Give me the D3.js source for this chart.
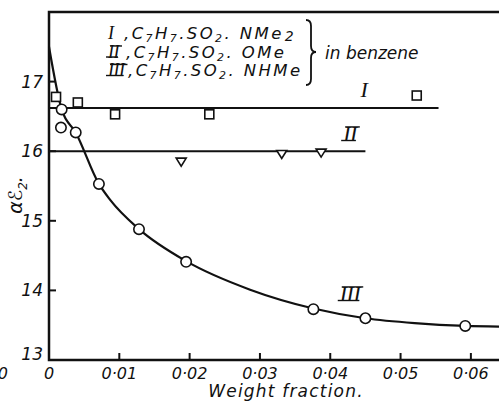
<!DOCTYPE html>
<html>
<head>
<meta charset="utf-8">
<title>weight fraction</title>
<script src="https://d3js.org/d3.v7.min.js"></script>
<style>
  body { margin: 0; background: #fff; }
  text { font-family: "DejaVu Sans", sans-serif; font-style: italic; fill: #111; }
  .roman { font-family: "Liberation Serif", serif; font-style: italic; }
</style>
</head>
<body>
<div id="chart"></div>
<script>
// data
var sqX = [0.0010, 0.0041, 0.0094, 0.0228, 0.0523];       // I
var sqY = [16.78, 16.70, 16.53, 16.53, 16.80];
var triX = [0.0188, 0.0331, 0.0387];                      // II
var triY = [15.85, 15.96, 15.98];
var circX = [0.0018, 0.0017, 0.0038, 0.0071, 0.0128, 0.0195, 0.0376, 0.0450, 0.0592]; // III
var circY = [16.60, 16.34, 16.27, 15.53, 14.88, 14.41, 13.73, 13.60, 13.49];
var curveX = [0, 0.0018, 0.0038, 0.0071, 0.0087, 0.0128, 0.0195, 0.0286, 0.0376, 0.0450, 0.0520, 0.0592, 0.064];
var curveY = [17.50, 16.60, 16.27, 15.53, 15.30, 14.88, 14.42, 14.01, 13.74, 13.60, 13.53, 13.49, 13.48];
var lineI = [0, 0.0554, 16.62];   // x start, x end, value
var lineII = [0, 0.0450, 16.0];
var xTicks = [0, 0.01, 0.02, 0.03, 0.04, 0.05, 0.06];
var xTickLabels = ["0", "0·01", "0·02", "0·03", "0·04", "0·05", "0·06"];
var yTicks = [13, 14, 15, 16, 17];
var numerals = ["I", "II", "III"];
var groups = ["NMe", "OMe", "NHMe"];

var width = 499, height = 402;

var svg = d3.select("#chart").append("svg")
  .attr("width", width)
  .attr("height", height);

var x = d3.scaleLinear().domain([0, 0.064]).range([49, 499]);
var y = d3.scaleLinear().domain([13, 18]).range([360, 12]);

// frame: left, top and bottom
svg.append("path")
  .attr("d", "M499," + y(18) + "H" + x(0) + "V" + y(13) + "H499")
  .attr("fill", "none").attr("stroke", "#111").attr("stroke-width", 2.5);

// ticks pointing inward
svg.selectAll(".yt").data(yTicks.slice(1)).enter().append("line")
  .attr("x1", x(0)).attr("x2", x(0) + 7)
  .attr("y1", function(d) { return y(d); }).attr("y2", function(d) { return y(d); })
  .attr("stroke", "#111").attr("stroke-width", 2);
svg.selectAll(".xt").data(xTicks.slice(1)).enter().append("line")
  .attr("x1", function(d) { return x(d); }).attr("x2", function(d) { return x(d); })
  .attr("y1", y(13)).attr("y2", y(13) - 7)
  .attr("stroke", "#111").attr("stroke-width", 2);

// tick labels
svg.selectAll(".yl").data(yTicks).enter().append("text")
  .attr("x", 43).attr("y", function(d) { return Math.min(y(d) + 6, 360); })
  .attr("text-anchor", "end").style("font-size", "17px")
  .text(function(d) { return d; });
svg.selectAll(".xl").data(xTicks).enter().append("text")
  .attr("x", function(d) { return x(d); }).attr("y", 379)
  .attr("text-anchor", "middle").style("font-size", "16px")
  .text(function(d, i) { return xTickLabels[i]; });
// stray zero at the left edge of the page
svg.append("text").attr("x", 8).attr("y", 379).attr("text-anchor", "end").style("font-size", "16px").text("0");

// axis titles
svg.append("text").attr("x", 286).attr("y", 397).attr("text-anchor", "middle")
  .style("font-size", "17px").style("letter-spacing", "1.2px").text("Weight fraction.");
var yt = svg.append("text").attr("transform", "translate(22,195) rotate(-90)")
  .attr("text-anchor", "middle").style("font-size", "19px");
yt.append("tspan").text("αℰ");
yt.append("tspan").attr("dy", 5).style("font-size", "12px").text("2");
yt.append("tspan").attr("dy", -5).text(".");

// horizontal lines I and II
[lineI, lineII].forEach(function(l) {
  svg.append("line")
    .attr("x1", x(l[0])).attr("x2", x(l[1]))
    .attr("y1", y(l[2])).attr("y2", y(l[2]))
    .attr("stroke", "#111").attr("stroke-width", 2);
});

// curve III
var pts = curveX.map(function(d, i) { return [d, curveY[i]]; });
svg.append("path")
  .attr("d", d3.line().x(function(d) { return x(d[0]); }).y(function(d) { return y(d[1]); })
    .curve(d3.curveMonotoneX)(pts))
  .attr("fill", "none").attr("stroke", "#111").attr("stroke-width", 2.2);

// markers
svg.selectAll(".sq").data(sqX).enter().append("rect")
  .attr("x", function(d) { return x(d) - 4.5; })
  .attr("y", function(d, i) { return y(sqY[i]) - 4.5; })
  .attr("width", 9).attr("height", 9)
  .attr("fill", "#fff").attr("stroke", "#111").attr("stroke-width", 1.6);
svg.selectAll(".tri").data(triX).enter().append("path")
  .attr("transform", function(d, i) { return "translate(" + x(d) + "," + y(triY[i]) + ")"; })
  .attr("d", "M-5,-3.5L5,-3.5L0,4.5Z")
  .attr("fill", "#fff").attr("stroke", "#111").attr("stroke-width", 1.6);
svg.selectAll(".circ").data(circX).enter().append("circle")
  .attr("cx", function(d) { return x(d); })
  .attr("cy", function(d, i) { return y(circY[i]); })
  .attr("r", 5.2)
  .attr("fill", "#fff").attr("stroke", "#111").attr("stroke-width", 1.6);

// roman numeral with the joined top and bottom bars of the original type
function roman(sx, sy, s, size, anchor) {
  var t = svg.append("text").attr("class", "roman").attr("x", sx).attr("y", sy)
    .attr("text-anchor", anchor).style("font-size", size + "px").style("letter-spacing", "-0.5px")
    .text(s);
  if (s.length < 2) return;
  var w = t.node().getComputedTextLength();
  var x0 = anchor == "middle" ? sx - w / 2 : (anchor == "end" ? sx - w : sx);
  var cap = size * 0.64;
  svg.append("line").attr("x1", x0 - 2).attr("x2", x0 + w - 1).attr("y1", sy - 0.5).attr("y2", sy - 0.5)
    .attr("stroke", "#111").attr("stroke-width", 1.4);
  svg.append("line").attr("x1", x0 + 2).attr("x2", x0 + w + 3).attr("y1", sy - cap).attr("y2", sy - cap)
    .attr("stroke", "#111").attr("stroke-width", 1.4);
}
roman(364, 97, numerals[0], 22, "middle");
roman(350, 141, numerals[1], 22, "middle");
roman(350, 301, numerals[2], 22, "middle");

// legend block
numerals.forEach(function(n, i) {
  var by = 39 + i * 18.5;
  roman(108, by, n, 18, "start");
  var t = svg.append("text").attr("x", 124 + i * 2).attr("y", by)
    .style("font-size", "16.5px").style("letter-spacing", "2.4px");
  t.append("tspan").text(",C");
  t.append("tspan").attr("dy", 3).style("font-size", "11px").text("7");
  t.append("tspan").attr("dy", -3).text("H");
  t.append("tspan").attr("dy", 3).style("font-size", "11px").text("7");
  t.append("tspan").attr("dy", -3).text(".SO");
  t.append("tspan").attr("dy", 3).style("font-size", "11px").text("2");
  t.append("tspan").attr("dy", -3).text(". " + groups[i]);
  if (i == 0) t.append("tspan").attr("dy", 2).attr("dx", 1).style("font-size", "14px").text("2");
});
// brace
svg.append("path")
  .attr("d", "M306,20 Q311,20 311,26 L311,46 Q311,52 316,52 Q311,52 311,58 L311,79 Q311,85 306,85")
  .attr("fill", "none").attr("stroke", "#111").attr("stroke-width", 1.8);
svg.append("text").attr("x", 325).attr("y", 59).style("font-size", "17px").text("in benzene");
</script>
</body>
</html>
